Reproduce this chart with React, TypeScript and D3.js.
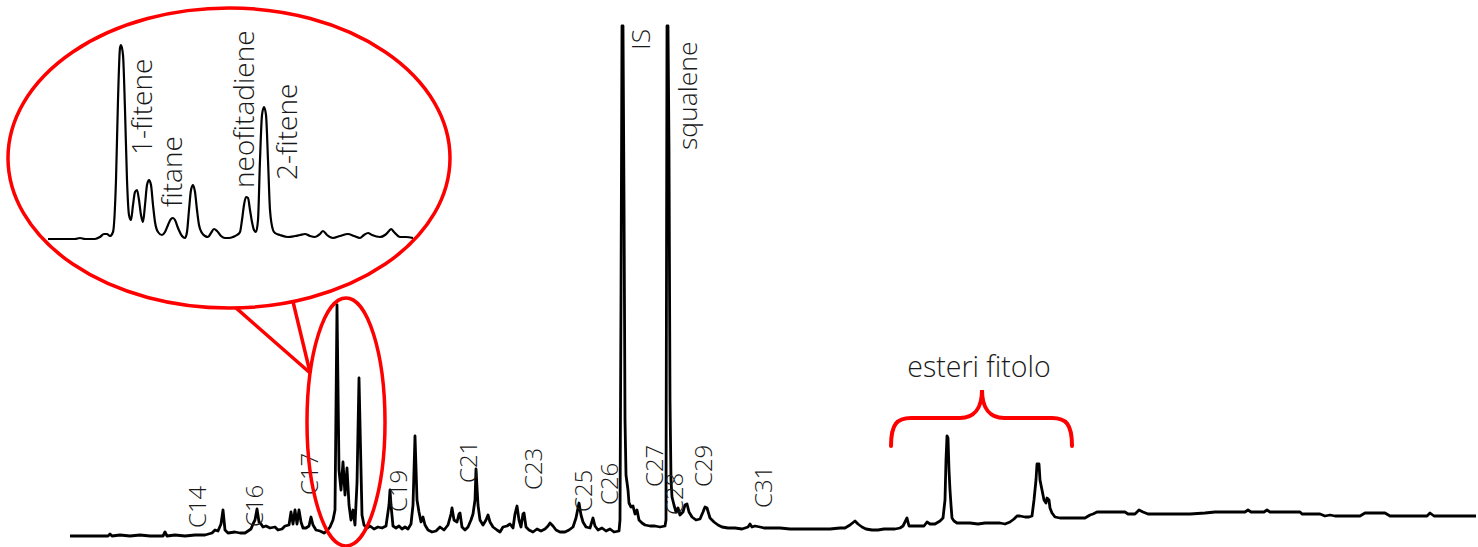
import React from "react";
import * as d3 from "d3";

const WIDTH = 1478;
const HEIGHT = 547;

// full chromatogram: [scan, abundance]
const mainTrace: [number, number][] = [
  [0, 1], [38, 1], [40, 3], [42, 1], [50, 2], [60, 1], [70, 2], [80, 1], [93, 1], [95, 5], [97, 1],
  [105, 2], [115, 1], [125, 2], [135, 2], [142, 4], [145, 7], [148, 6], [151, 13], [153, 27], [155, 7],
  [158, 4], [165, 5], [170, 4], [175, 4], [178, 6], [181, 8], [183, 13], [185, 17], [187, 28], [189, 15],
  [191, 13], [193, 10], [196, 11], [200, 9], [205, 10], [208, 7], [212, 8], [215, 11], [219, 12], [221, 25],
  [223, 13], [225, 27], [227, 13], [229, 27], [231, 15], [233, 9], [236, 9], [239, 11], [241, 20], [243, 12],
  [246, 7], [250, 6], [254, 4], [257, 6], [260, 10], [263, 17], [265, 27], [267, 232], [269, 67], [271, 47],
  [273, 75], [275, 42], [277, 69], [279, 32], [281, 17], [283, 27], [285, 12], [287, 54], [289, 159], [291, 67],
  [292, 22], [294, 12], [297, 9], [300, 11], [304, 8], [308, 10], [312, 9], [316, 11], [319, 32], [320, 47],
  [321, 32], [323, 11], [326, 9], [329, 11], [332, 8], [335, 10], [338, 8], [341, 13], [343, 32], [345, 101],
  [347, 37], [349, 25], [351, 15], [353, 20], [355, 12], [358, 7], [362, 5], [366, 6], [370, 10], [374, 7],
  [378, 12], [381, 23], [382, 29], [384, 17], [387, 15], [389, 23], [390, 24], [392, 10], [395, 7], [398, 10],
  [401, 17], [403, 23], [405, 37], [406, 68], [408, 32], [410, 17], [413, 12], [416, 17], [418, 22], [420, 15],
  [423, 10], [427, 7], [430, 5], [433, 10], [437, 11], [440, 13], [443, 9], [445, 23], [447, 31], [449, 17],
  [451, 10], [453, 23], [454, 24], [456, 10], [459, 7], [463, 5], [467, 8], [471, 6], [475, 8], [478, 11],
  [480, 14], [483, 11], [486, 7], [490, 5], [495, 5], [499, 7], [503, 10], [506, 19], [509, 34], [511, 22],
  [513, 15], [516, 10], [520, 9], [523, 19], [525, 11], [528, 7], [532, 9], [536, 6], [540, 8], [544, 5],
  [549, 6], [550, 17], [551, 237], [552, 511], [553, 511], [554, 337], [555, 117], [556, 62], [558, 47],
  [559, 34], [561, 30], [563, 31], [565, 23], [567, 27], [569, 17], [572, 14], [575, 12], [580, 11], [585, 11],
  [590, 10], [595, 11], [596, 17], [597, 511], [598, 511], [599, 387], [600, 137], [601, 57], [602, 40],
  [604, 32], [606, 25], [608, 29], [610, 22], [613, 25], [615, 32], [617, 33], [619, 25], [622, 20], [626, 17],
  [630, 18], [633, 25], [635, 30], [637, 29], [640, 19], [644, 15], [648, 12], [652, 10], [658, 9], [665, 9],
  [672, 8], [678, 10], [680, 13], [682, 10], [685, 11], [690, 10], [694, 9], [700, 9], [710, 9], [720, 8],
  [730, 8], [740, 8], [750, 8], [760, 8], [770, 9], [775, 9], [780, 12], [785, 16], [788, 13], [792, 10],
  [796, 8], [802, 7], [808, 7], [814, 8], [820, 8], [825, 8], [830, 9], [833, 11], [837, 19], [839, 11],
  [842, 11], [848, 11], [854, 11], [857, 15], [860, 13], [865, 13], [870, 16], [873, 19], [875, 37], [876, 77],
  [877, 101], [878, 99], [879, 67], [880, 47], [881, 32], [882, 19], [884, 16], [887, 14], [893, 14], [900, 14],
  [908, 13], [915, 14], [922, 14], [930, 14], [935, 13], [940, 15], [944, 18], [947, 21], [950, 21], [955, 20],
  [959, 20], [962, 21], [964, 37], [966, 57], [967, 73], [969, 73], [970, 57], [972, 47], [974, 37], [976, 34],
  [977, 39], [979, 37], [980, 29], [982, 24], [985, 20], [990, 19], [1000, 19], [1010, 19], [1015, 19],
  [1020, 22], [1023, 23], [1027, 25], [1040, 25], [1055, 25], [1058, 23], [1065, 23], [1069, 27], [1073, 25],
  [1078, 23], [1090, 23], [1105, 23], [1120, 23], [1135, 24], [1145, 25], [1160, 25], [1175, 25], [1178, 27],
  [1181, 25], [1194, 25], [1197, 27], [1200, 25], [1215, 25], [1230, 25], [1232, 23], [1250, 23], [1255, 21],
  [1260, 22], [1265, 21], [1275, 21], [1290, 21], [1295, 24], [1305, 24], [1315, 24], [1320, 21], [1340, 21],
  [1357, 21], [1360, 24], [1364, 21], [1380, 21], [1406, 21],
];

// enlarged phytadiene / phytene region: [scan, abundance]
const insetTrace: [number, number][] = [
  [0, 1], [12, 1], [27, 1], [32, 2], [37, 1], [47, 1], [52, 3], [56, 6], [59, 6], [62, 4], [65, 8], [68, 60],
  [70, 140], [72, 192], [73, 195], [75, 185], [77, 130], [79, 60], [81, 25], [83, 20], [85, 35], [87, 48],
  [89, 50], [91, 40], [93, 25], [95, 18], [97, 35], [99, 55], [101, 60], [103, 55], [105, 35], [107, 18],
  [110, 8], [114, 5], [117, 8], [120, 15], [123, 21], [125, 22], [127, 20], [130, 12], [134, 4], [137, 2],
  [139, 8], [141, 30], [143, 50], [145, 55], [147, 48], [149, 30], [151, 15], [154, 7], [157, 4], [160, 3],
  [163, 7], [166, 11], [169, 9], [173, 4], [177, 2], [181, 2], [185, 3], [189, 5], [192, 8], [194, 20],
  [196, 35], [198, 43], [200, 42], [202, 30], [204, 18], [206, 10], [208, 8], [210, 20], [212, 80], [214, 125],
  [216, 133], [218, 125], [220, 80], [222, 30], [225, 10], [227, 7], [232, 5], [240, 3], [247, 4], [252, 5],
  [257, 6], [262, 4], [267, 3], [272, 6], [275, 9], [279, 5], [285, 2], [292, 4], [300, 6], [306, 4], [312, 2],
  [316, 5], [320, 7], [324, 5], [332, 3], [337, 5], [341, 9], [343, 11], [346, 8], [352, 3], [358, 3], [365, 2],
];

// n-alkane and compound labels: [text, scan, abundance]
const carbonLabels: [string, number, number][] = [
  ["C14", 136, 9], ["C16", 193, 10], ["C17", 248, 42], ["C19", 337, 25], ["C21", 407, 54],
  ["C23", 472, 47], ["C25", 522, 25], ["C26", 548, 32], ["C27", 593, 50], ["C28", 613, 22],
  ["C29", 642, 50], ["C31", 702, 29],
];
const peakLabels: [string, number, number][] = [
  ["IS", 580, 487],
  ["squalene", 627, 387],
];
const insetLabels: [string, number, number][] = [
  ["1-fitene", 104, 85], ["fitane", 134, 33], ["neofitadiene", 206, 52], ["2-fitene", 249, 60],
];

// esteri fitolo bracket: left end, cusp, right end scan; base / bar / tip abundance
const braceScans = [821, 912, 1002];
const braceLevels = [91, 119, 147];
const braceTitle = "esteri fitolo";

// zoomed window on the main trace: scan range, abundance range
const zoomScans = [237, 315];
const zoomLevels = [-9, 239];

const FONT = "'Segoe UI Light', 'Open Sans', 'Noto Sans', sans-serif";
const RED = "#ff0000";
const INK = "#1a1a1a";

export default function App() {
  const x = d3.scaleLinear().domain([0, 1406]).range([70, 1476]);
  const y = d3.scaleLinear().domain([0, 511]).range([537, 26]);

  const ix = d3.scaleLinear().domain([0, 365]).range([48, 413]);
  const iy = d3.scaleLinear().domain([0, 200]).range([240, 40]);

  const mainLine = d3.line<[number, number]>().x((d) => x(d[0])).y((d) => y(d[1]));
  const insetLine = d3
    .line<[number, number]>()
    .x((d) => ix(d[0]))
    .y((d) => iy(d[1]))
    .curve(d3.curveMonotoneX);

  // inset bubble
  const bubble = { cx: 229, cy: 158, rx: 221, ry: 150 };

  // small ellipse around the zoomed window
  const zx0 = x(zoomScans[0]);
  const zx1 = x(zoomScans[1]);
  const zy0 = y(zoomLevels[1]);
  const zy1 = y(zoomLevels[0]);
  const zcx = (zx0 + zx1) / 2;
  const zcy = (zy0 + zy1) / 2;
  const zrx = (zx1 - zx0) / 2;
  const zry = (zy1 - zy0) / 2;

  // connector: two points on the bubble bottom to the left of the small ellipse
  const onBubble = (px: number) => {
    const t = (px - bubble.cx) / bubble.rx;
    return [px, bubble.cy + bubble.ry * Math.sqrt(1 - t * t)];
  };
  const meetY = zcy - 49;
  const meetX = zcx - zrx * Math.sqrt(1 - ((meetY - zcy) / zry) ** 2);
  const c1 = onBubble(236);
  const c2 = onBubble(293);

  // brace
  const bl = x(braceScans[0]);
  const bm = x(braceScans[1]);
  const br = x(braceScans[2]);
  const yb = y(braceLevels[0]);
  const yh = y(braceLevels[1]);
  const yt = y(braceLevels[2]);
  const r = 20;
  const brace = d3.path();
  brace.moveTo(bl, yb);
  brace.bezierCurveTo(bl, yh + 6, bl + 6, yh, bl + r, yh);
  brace.lineTo(bm - 22, yh);
  brace.bezierCurveTo(bm - 8, yh, bm, yh - 10, bm, yt);
  brace.bezierCurveTo(bm, yh - 10, bm + 8, yh, bm + 22, yh);
  brace.lineTo(br - r, yh);
  brace.bezierCurveTo(br - 6, yh, br, yh + 6, br, yb);

  const vText = (t: [string, number, number], sx: (v: number) => number, sy: (v: number) => number, size: number) => (
    <text
      key={t[0]}
      transform={`translate(${sx(t[1])},${sy(t[2])}) rotate(-90)`}
      fontSize={size}
      fontFamily={FONT}
      fontWeight={300}
      fill={INK}
    >
      {t[0]}
    </text>
  );

  return (
    <svg
      width={WIDTH}
      height={HEIGHT}
      style={{ position: "absolute", left: 0, top: 0, background: "#fff" }}
    >
      <path d={mainLine(mainTrace) ?? ""} fill="none" stroke="#000" strokeWidth={2.8} strokeLinejoin="round" />

      {carbonLabels.map((t) => vText(t, x, y, 24))}
      {peakLabels.map((t) => vText(t, x, y, 26.5))}

      <text
        x={x(braceScans[1]) - 3}
        y={y(160)}
        textAnchor="middle"
        fontSize={28.5}
        fontFamily={FONT}
        fontWeight={300}
        fill={INK}
      >
        {braceTitle}
      </text>
      <path d={brace.toString()} fill="none" stroke={RED} strokeWidth={4} strokeLinecap="round" />

      <ellipse cx={zcx} cy={zcy} rx={zrx} ry={zry} fill="none" stroke={RED} strokeWidth={3.5} />
      <line x1={c1[0]} y1={c1[1]} x2={meetX} y2={meetY} stroke={RED} strokeWidth={3.5} />
      <line x1={c2[0]} y1={c2[1]} x2={meetX} y2={meetY} stroke={RED} strokeWidth={3.5} />

      <ellipse cx={bubble.cx} cy={bubble.cy} rx={bubble.rx} ry={bubble.ry} fill="#fff" stroke={RED} strokeWidth={3.5} />
      <path d={insetLine(insetTrace) ?? ""} fill="none" stroke="#000" strokeWidth={2.2} strokeLinejoin="round" />
      {insetLabels.map((t) => vText(t, ix, iy, 28))}
    </svg>
  );
}
